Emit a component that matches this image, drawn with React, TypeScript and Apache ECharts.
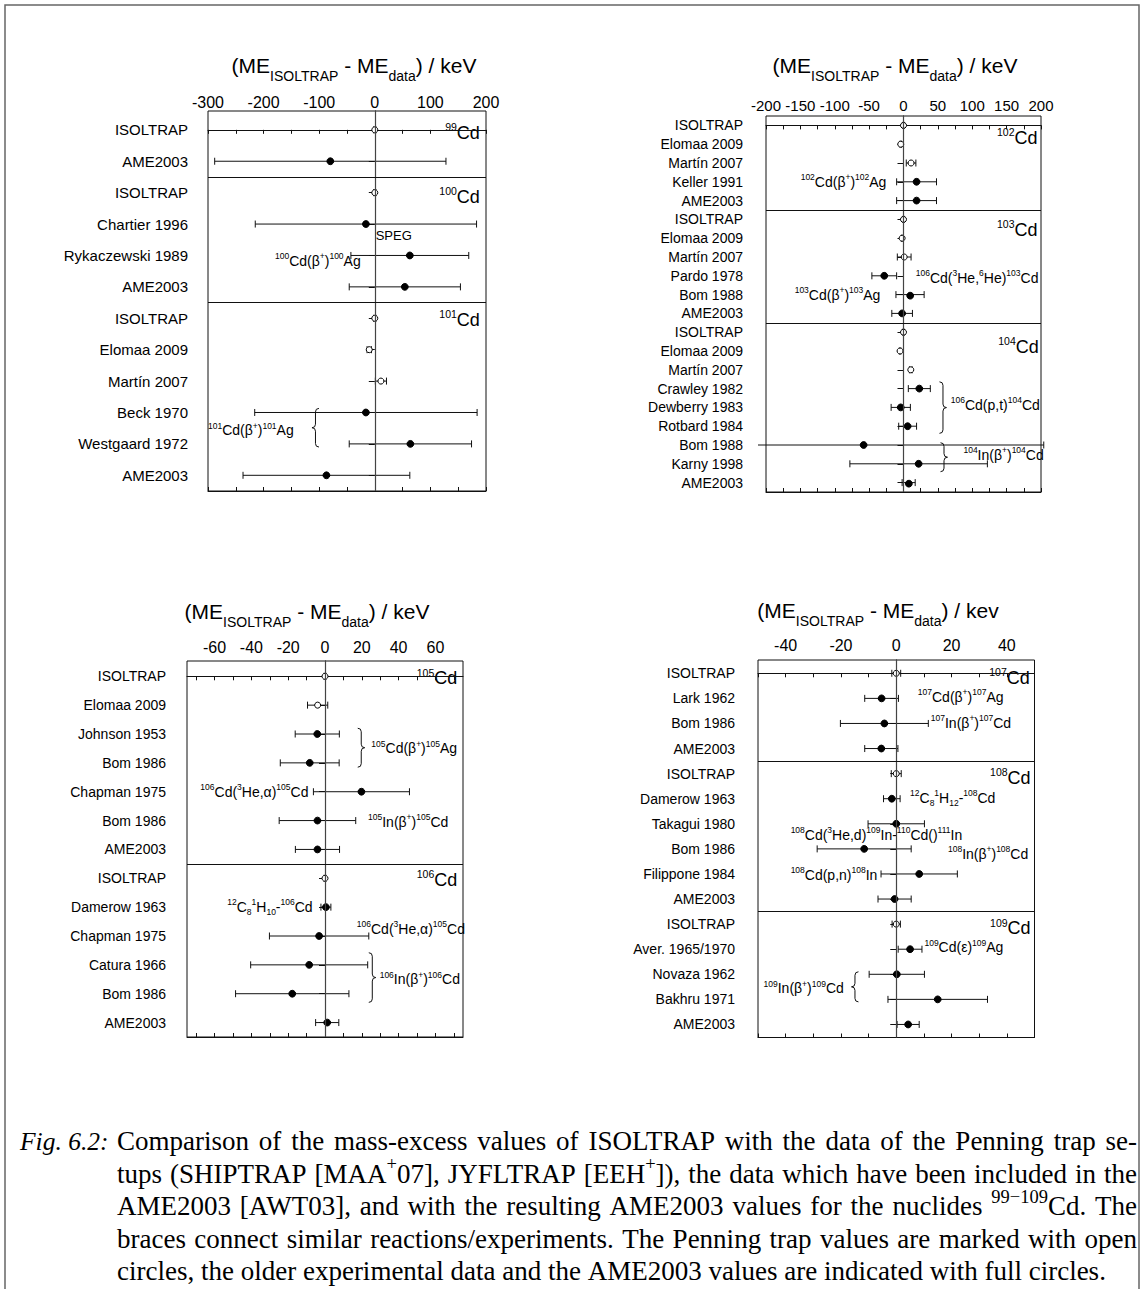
import React, { useEffect, useRef } from "react";
import * as echarts from "echarts";

// ---------- 99Cd – 101Cd ----------
const cd99to101Labels = [
  "ISOLTRAP", "AME2003",
  "ISOLTRAP", "Chartier 1996", "Rykaczewski 1989", "AME2003",
  "ISOLTRAP", "Elomaa 2009", "Martín 2007", "Beck 1970", "Westgaard 1972", "AME2003",
];
const cd99to101Values = [0, -80, 0, -16, 63, 54, 0, -10, 11, -16, 64, -87];
const cd99to101Errors = [2, 208, 2, 199, 106, 100, 2, 4, 10, 200, 110, 150];
const cd99to101Open = [0, 2, 6, 7, 8];
const cd99to101Bounds = [1.5, 5.5];
const cd99to101Ticks = [-300, -250, -200, -150, -100, -50, 0, 50, 100, 150, 200];
const cd99to101TickLabels = [-300, -200, -100, 0, 100, 200];

// ---------- 102Cd – 104Cd ----------
const cd102to104Labels = [
  "ISOLTRAP", "Elomaa 2009", "Martín 2007", "Keller 1991", "AME2003",
  "ISOLTRAP", "Elomaa 2009", "Martín 2007", "Pardo 1978", "Bom 1988", "AME2003",
  "ISOLTRAP", "Elomaa 2009", "Martín 2007", "Crawley 1982", "Dewberry 1983", "Rotbard 1984", "Bom 1988", "Karny 1998", "AME2003",
];
const cd102to104Values = [0, -4, 11, 19, 19, 0, -2, 1, -28, 9.5, -2, 0, -5, 10.6, 23, -4, 6, -58, 22, 7.5];
const cd102to104Errors = [1, 1, 7, 29, 29, 1, 1, 10, 18, 20.5, 15, 1, 1, 2, 16, 14, 13, 262, 100, 9.5];
const cd102to104Open = [0, 1, 2, 5, 6, 7, 11, 12, 13];
const cd102to104Bounds = [4.5, 10.5];
const cd102to104Ticks = [-200, -175, -150, -125, -100, -75, -50, -25, 0, 25, 50, 75, 100, 125, 150, 175, 200];
const cd102to104TickLabels = [-200, -150, -100, -50, 0, 50, 100, 150, 200];

// ---------- 105Cd – 106Cd ----------
const cd105to106Labels = [
  "ISOLTRAP", "Elomaa 2009", "Johnson 1953", "Bom 1986", "Chapman 1975", "Bom 1986", "AME2003",
  "ISOLTRAP", "Damerow 1963", "Chapman 1975", "Catura 1966", "Bom 1986", "AME2003",
];
const cd105to106Values = [0, -4, -4.2, -8.3, 19.8, -4.1, -4.1, 0, 0.5, -3.2, -8.6, -17.8, 1.2];
const cd105to106Errors = [0.5, 5.5, 12, 16, 26.1, 20.8, 12, 0.5, 2.7, 27, 31.8, 30.8, 6.3];
const cd105to106Open = [0, 1, 7];
const cd105to106Bounds = [6.5];
const cd105to106Ticks = [-70, -60, -50, -40, -30, -20, -10, 0, 10, 20, 30, 40, 50, 60, 70];
const cd105to106TickLabels = [-60, -40, -20, 0, 20, 40, 60];

// ---------- 107Cd – 109Cd ----------
const cd107to109Labels = [
  "ISOLTRAP", "Lark 1962", "Bom 1986", "AME2003",
  "ISOLTRAP", "Damerow 1963", "Takagui 1980", "Bom 1986", "Filippone 1984", "AME2003",
  "ISOLTRAP", "Aver. 1965/1970", "Novaza 1962", "Bakhru 1971", "AME2003",
];
const cd107to109Values = [0, -5.3, -4.3, -5.4, 0, -1.6, 0, -11.6, 8.3, -0.6, 0, 5, 0.2, 15, 4.3];
const cd107to109Errors = [1.6, 6.1, 15.9, 6, 1.8, 3, 10.2, 17, 13.8, 6, 1.5, 4.3, 10, 18, 4];
const cd107to109Open = [0, 4, 10];
const cd107to109Bounds = [3.5, 9.5];
const cd107to109Ticks = [-50, -40, -30, -20, -10, 0, 10, 20, 30, 40, 50];
const cd107to109TickLabels = [-40, -20, 0, 20, 40];

// Reaction / nuclide notes, placed in data coordinates (keV, row)
const cd99to101Notes = [
  { x: 189, row: 0.1, text: "^{99}Cd", align: "right", big: true },
  { x: 189, row: 2.13, text: "^{100}Cd", align: "right", big: true },
  { x: 1.5, row: 3.35, text: "SPEG", align: "left", plain: 13 },
  { x: -179.5, row: 4.17, text: "^{100}Cd(β^{+})^{100}Ag", align: "left" },
  { x: 189, row: 6.04, text: "^{101}Cd", align: "right", big: true },
  { x: -300, row: 9.57, text: "^{101}Cd(β^{+})^{101}Ag", align: "left" },
];
const cd99to101Braces = [{ x: -113, from: 8.87, to: 10.1, dir: -1 }];

const cd102to104Notes = [
  { x: 195, row: 0.65, text: "^{102}Cd", align: "right", big: true },
  { x: -149.6, row: 3.01, text: "^{102}Cd(β^{+})^{102}Ag", align: "left" },
  { x: 195, row: 5.54, text: "^{103}Cd", align: "right", big: true },
  { x: 17.9, row: 8.13, text: "^{106}Cd(^{3}He,^{6}He)^{103}Cd", align: "left" },
  { x: -158.3, row: 9.03, text: "^{103}Cd(β^{+})^{103}Ag", align: "left" },
  { x: 196.7, row: 11.8, text: "^{104}Cd", align: "right", big: true },
  { x: 68.8, row: 14.88, text: "^{106}Cd(p,t)^{104}Cd", align: "left" },
  { x: 87.2, row: 17.53, text: "^{104}In(β^{+})^{104}Cd", align: "left" },
];
const cd102to104Braces = [
  { x: 62.5, from: 13.64, to: 16.38, dir: 1 },
  { x: 64, from: 16.88, to: 18.42, dir: 1 },
];

const cd105to106Notes = [
  { x: 71.9, row: 0.07, text: "^{105}Cd", align: "right", big: true },
  { x: 25.2, row: 2.5, text: "^{105}Cd(β^{+})^{105}Ag", align: "left" },
  { x: -9, row: 4.0, text: "^{106}Cd(^{3}He,α)^{105}Cd", align: "right" },
  { x: 23.4, row: 5.04, text: "^{105}In(β^{+})^{105}Cd", align: "left" },
  { x: 71.9, row: 7.05, text: "^{106}Cd", align: "right", big: true },
  { x: -53.1, row: 7.99, text: "^{12}C_{8}^{1}H_{10}-^{106}Cd", align: "left" },
  { x: 17.3, row: 8.75, text: "^{106}Cd(^{3}He,α)^{105}Cd", align: "left" },
  { x: 29.7, row: 10.5, text: "^{106}In(β^{+})^{106}Cd", align: "left" },
];
const cd105to106Braces = [
  { x: 21.6, from: 1.8, to: 3.15, dir: 1 },
  { x: 27.6, from: 9.58, to: 11.3, dir: 1 },
];

const cd107to109Notes = [
  { x: 48.3, row: 0.19, text: "^{107}Cd", align: "right", big: true },
  { x: 7.8, row: 0.95, text: "^{107}Cd(β^{+})^{107}Ag", align: "left" },
  { x: 12.5, row: 1.99, text: "^{107}In(β^{+})^{107}Cd", align: "left" },
  { x: 48.6, row: 4.17, text: "^{108}Cd", align: "right", big: true },
  { x: 5, row: 4.97, text: "^{12}C_{8}^{1}H_{12}-^{108}Cd", align: "left" },
  { x: -38.2, row: 6.44, text: "^{108}Cd(^{3}He,d)^{109}In-^{110}Cd()^{111}In", align: "left" },
  { x: 18.7, row: 7.2, text: "^{108}In(β^{+})^{108}Cd", align: "left" },
  { x: -38.2, row: 8.04, text: "^{108}Cd(p,n)^{108}In", align: "left" },
  { x: 48.6, row: 10.17, text: "^{109}Cd", align: "right", big: true },
  { x: 10.2, row: 10.93, text: "^{109}Cd(ε)^{109}Ag", align: "left" },
  { x: -48, row: 12.56, text: "^{109}In(β^{+})^{109}Cd", align: "left" },
];
const cd107to109Braces = [{ x: -16.2, from: 11.9, to: 13.1, dir: -1 }];

// Figure caption, one entry per printed line
const captionLead = "Fig. 6.2:";
const captionLines = [
  "Comparison of the mass-excess values of ISOLTRAP with the data of the Penning trap se-",
  "tups (SHIPTRAP [MAA^{+}07], JYFLTRAP [EEH^{+}]), the data which have been included in the",
  "AME2003 [AWT03], and with the resulting AME2003 values for the nuclides ^{99−109}Cd. The",
  "braces connect similar reactions/experiments. The Penning trap values are marked with open",
  "circles, the older experimental data and the AME2003 values are indicated with full circles.",
];

const SANS = "'Liberation Sans', Arial, Helvetica, sans-serif";
const SERIF = "'Liberation Serif', 'Times New Roman', serif";

// Panel layout (pixels) kept apart from the values above
const panels: any[] = [
  {
    labels: cd99to101Labels, values: cd99to101Values, errors: cd99to101Errors, open: cd99to101Open,
    bounds: cd99to101Bounds, ticks: cd99to101Ticks, tickLabels: cd99to101TickLabels,
    notes: cd99to101Notes, braces: cd99to101Braces,
    xMin: -300, xMax: 200, rowMin: -0.6, rowMax: 11.5,
    grid: { left: 208, top: 111, width: 278, height: 380 },
    labelFont: 15, labelMargin: 20, tickFont: 16, tickMargin: 1,
    title: { x: 354, y: 65, unit: "keV" },
  },
  {
    labels: cd102to104Labels, values: cd102to104Values, errors: cd102to104Errors, open: cd102to104Open,
    bounds: cd102to104Bounds, ticks: cd102to104Ticks, tickLabels: cd102to104TickLabels,
    notes: cd102to104Notes, braces: cd102to104Braces,
    xMin: -200, xMax: 200, rowMin: -0.5, rowMax: 19.5,
    grid: { left: 766, top: 116, width: 275, height: 376 },
    labelFont: 14, labelMargin: 23, tickFont: 15, tickMargin: 3,
    title: { x: 895, y: 65, unit: "keV" },
  },
  {
    labels: cd105to106Labels, values: cd105to106Values, errors: cd105to106Errors, open: cd105to106Open,
    bounds: cd105to106Bounds, ticks: cd105to106Ticks, tickLabels: cd105to106TickLabels,
    notes: cd105to106Notes, braces: cd105to106Braces,
    xMin: -75, xMax: 75, rowMin: -0.53, rowMax: 12.5,
    grid: { left: 187, top: 661, width: 276, height: 376 },
    labelFont: 14, labelMargin: 21, tickFont: 16, tickMargin: 6,
    title: { x: 307, y: 611, unit: "keV" },
  },
  {
    labels: cd107to109Labels, values: cd107to109Values, errors: cd107to109Errors, open: cd107to109Open,
    bounds: cd107to109Bounds, ticks: cd107to109Ticks, tickLabels: cd107to109TickLabels,
    notes: cd107to109Notes, braces: cd107to109Braces,
    xMin: -50, xMax: 50, rowMin: -0.53, rowMax: 14.52,
    grid: { left: 758, top: 660, width: 276.5, height: 377.5 },
    labelFont: 14, labelMargin: 23, tickFont: 16, tickMargin: 7,
    title: { x: 878, y: 610, unit: "kev" },
  },
];

// Curly brace; x is the tip, dir = 1 points right ("}"), dir = -1 points left ("{")
const BraceShape = (echarts.graphic as any).extendShape({
  type: "brace",
  shape: { x: 0, y0: 0, y1: 10, w: 7, dir: 1 },
  buildPath(ctx: any, s: any) {
    const back = s.x - s.dir * s.w;
    const spine = s.x - (s.dir * s.w) / 2;
    const m = (s.y0 + s.y1) / 2;
    const r = Math.min(s.w / 2, (s.y1 - s.y0) / 4);
    ctx.moveTo(back, s.y0);
    ctx.quadraticCurveTo(spine, s.y0, spine, s.y0 + r);
    ctx.lineTo(spine, m - r);
    ctx.quadraticCurveTo(spine, m, s.x, m);
    ctx.quadraticCurveTo(spine, m, spine, m + r);
    ctx.lineTo(spine, s.y1 - r);
    ctx.quadraticCurveTo(spine, s.y1, back, s.y1);
  },
});
echarts.graphic.registerShape("brace", BraceShape);

// "^{..}" → superscript, "_{..}" → subscript, rest → normal
function toRich(markup: string): string {
  let out = "";
  const re = /\^\{([^}]*)\}|_\{([^}]*)\}|([^^_]+)/g;
  let m: RegExpExecArray | null;
  while ((m = re.exec(markup))) {
    if (m[1] !== undefined) out += `{p|${m[1]}}`;
    else if (m[2] !== undefined) out += `{b|${m[2]}}`;
    else out += `{n|${m[3]}}`;
  }
  return out;
}

function richStyles(main: number, small: number, shift: number, family: string, fontStyle = "normal") {
  const line = Math.max(2 * shift + small, main);
  return {
    n: { fontSize: main, fontFamily: family, fontStyle, fill: "#000", lineHeight: line, verticalAlign: "middle" },
    p: { fontSize: small, fontFamily: family, fill: "#000", lineHeight: small, verticalAlign: "top" },
    b: { fontSize: small, fontFamily: family, fill: "#000", lineHeight: small, verticalAlign: "bottom" },
  };
}

export default function App() {
  const ref = useRef<HTMLDivElement>(null);

  useEffect(() => {
    const el = ref.current!;
    const chart = echarts.init(el, undefined, { renderer: "svg", width: 1144, height: 1289 });

    const grid: any[] = [];
    const xAxis: any[] = [];
    const yAxis: any[] = [];
    const series: any[] = [];

    panels.forEach((p, i) => {
      grid.push({ ...p.grid, show: true, borderColor: "#111", borderWidth: 1, backgroundColor: "transparent" });
      const common = {
        type: "value",
        gridIndex: i,
        min: p.xMin,
        max: p.xMax,
        splitLine: { show: false },
        axisLine: { show: true, lineStyle: { color: "#111", width: 1 } },
        axisTick: { show: true, inside: true, length: 4, customValues: p.ticks, lineStyle: { color: "#111" } },
      };
      xAxis.push({
        ...common,
        position: "top",
        axisLabel: {
          show: true, customValues: p.tickLabels, formatter: (v: number) => String(v),
          fontSize: p.tickFont, fontFamily: SANS, color: "#000", margin: p.tickMargin,
        },
      });
      xAxis.push({ ...common, position: "bottom", axisLabel: { show: false } });

      const rows = p.labels.map((_: string, r: number) => r);
      yAxis.push({
        type: "value",
        gridIndex: i,
        inverse: true,
        min: p.rowMin,
        max: p.rowMax,
        splitLine: { show: false },
        axisLine: { show: true, lineStyle: { color: "#111", width: 1 } },
        axisTick: { show: true, inside: false, length: 6, customValues: rows, lineStyle: { color: "#111" } },
        axisLabel: {
          customValues: rows,
          formatter: (v: number) => p.labels[Math.round(v)] ?? "",
          fontSize: p.labelFont, fontFamily: SANS, color: "#000", margin: p.labelMargin,
        },
      });

      series.push({
        type: "custom",
        xAxisIndex: 2 * i,
        yAxisIndex: i,
        clip: false,
        silent: true,
        encode: { x: 0, y: 1 },
        data: p.values.map((v: number, r: number) => [v, r, p.errors[r], p.open.includes(r) ? 1 : 0]),
        renderItem: (_params: any, api: any) => {
          const v = api.value(0);
          const r = api.value(1);
          const e = api.value(2);
          const isOpen = api.value(3) === 1;
          const c = api.coord([v, r]);
          let x0 = api.coord([v - e, r])[0];
          let x1 = api.coord([v + e, r])[0];
          const left = api.coord([p.xMin, r])[0];
          const right = api.coord([p.xMax, r])[0];
          let cap0 = true;
          let cap1 = true;
          if (x0 < left - 8) { x0 = left - 8; cap0 = false; }
          if (x1 > right + 8) { x1 = right + 8; cap1 = false; }
          const ink = { stroke: "#111", lineWidth: 1 };
          const children: any[] = [
            { type: "line", shape: { x1: x0, y1: c[1], x2: x1, y2: c[1] }, style: ink },
          ];
          if (cap0) children.push({ type: "line", shape: { x1: x0, y1: c[1] - 3.5, x2: x0, y2: c[1] + 3.5 }, style: ink });
          if (cap1) children.push({ type: "line", shape: { x1: x1, y1: c[1] - 3.5, x2: x1, y2: c[1] + 3.5 }, style: ink });
          children.push({
            type: "circle",
            shape: { cx: c[0], cy: c[1], r: isOpen ? 3 : 3.4 },
            style: { fill: isOpen ? "#fff" : "#000", stroke: "#000", lineWidth: 1 },
          });
          return { type: "group", children };
        },
        markLine: {
          silent: true,
          animation: false,
          symbol: ["none", "none"],
          label: { show: false },
          lineStyle: { color: "#111", width: 1, type: "solid" },
          data: [
            { xAxis: 0, lineStyle: { color: "#444", width: 1.2, type: "solid" } },
            ...p.bounds.map((b: number) => ({ yAxis: b })),
          ],
        },
      });
    });

    chart.setOption({
      animation: false,
      backgroundColor: "#fff",
      textStyle: { fontFamily: SANS },
      grid,
      xAxis,
      yAxis,
      series,
    });

    const graphics: any[] = [
      {
        type: "rect",
        shape: { x: 5, y: 5, width: 1134, height: 1320 },
        style: { fill: "none", stroke: "#666", lineWidth: 1.5 },
        silent: true,
      },
    ];

    panels.forEach((p, i) => {
      graphics.push({
        type: "text",
        x: p.title.x,
        y: p.title.y,
        style: {
          text: toRich(`(ME_{ISOLTRAP} - ME_{data}) / ${p.title.unit}`),
          rich: richStyles(21, 14, 11, SANS),
          align: "center", textAlign: "center",
          verticalAlign: "middle", textVerticalAlign: "middle",
        },
      });

      p.notes.forEach((n: any) => {
        const [px, py] = chart.convertToPixel({ seriesIndex: i }, [n.x, n.row]) as number[];
        const rich = n.plain
          ? richStyles(n.plain, n.plain, 0, SANS)
          : n.big
            ? richStyles(18, 10.5, 6, SANS)
            : richStyles(14, 8.5, 5, SANS);
        graphics.push({
          type: "text",
          x: px,
          y: py,
          style: {
            text: toRich(n.text),
            rich,
            align: n.align, textAlign: n.align,
            verticalAlign: "middle", textVerticalAlign: "middle",
          },
        });
      });

      p.braces.forEach((b: any) => {
        const a = chart.convertToPixel({ seriesIndex: i }, [b.x, b.from]) as number[];
        const z = chart.convertToPixel({ seriesIndex: i }, [b.x, b.to]) as number[];
        graphics.push({
          type: "brace",
          shape: { x: a[0], y0: a[1], y1: z[1], w: 7, dir: b.dir },
          style: { stroke: "#111", fill: "none", lineWidth: 1 },
        });
      });
    });

    // Caption: justified lines, word by word
    const TextEl = (echarts.graphic as any).Text;
    const capSize = 27;
    const capRich = richStyles(capSize, 18.5, 9.5, SERIF);
    const measure = (markup: string) =>
      new TextEl({ style: { text: toRich(markup), rich: capRich } }).getBoundingRect().width;
    const capLeft = 117;
    const capRight = 1137;
    const capTop = 1141;
    const capStep = 32.5;

    graphics.push({
      type: "text",
      x: 20,
      y: capTop,
      style: {
        text: toRich(captionLead),
        rich: richStyles(25.5, 18, 9, SERIF, "italic"),
        align: "left", textAlign: "left",
        verticalAlign: "middle", textVerticalAlign: "middle",
      },
    });

    const spaceW = measure("a b") - measure("ab");
    captionLines.forEach((line, li) => {
      const words = line.split(" ");
      const widths = words.map(measure);
      const total = widths.reduce((s, w) => s + w, 0);
      const last = li === captionLines.length - 1;
      const gap = last || words.length < 2 ? spaceW : (capRight - capLeft - total) / (words.length - 1);
      let x = capLeft;
      words.forEach((w, wi) => {
        graphics.push({
          type: "text",
          x,
          y: capTop + li * capStep,
          style: {
            text: toRich(w),
            rich: capRich,
            align: "left", textAlign: "left",
            verticalAlign: "middle", textVerticalAlign: "middle",
          },
        });
        x += widths[wi] + gap;
      });
    });

    chart.setOption({ graphic: { elements: graphics } });

    return () => {
      chart.dispose();
    };
  }, []);

  return (
    <div
      ref={ref}
      style={{ position: "absolute", left: 0, top: 0, width: 1144, height: 1289, background: "#fff" }}
    />
  );
}
